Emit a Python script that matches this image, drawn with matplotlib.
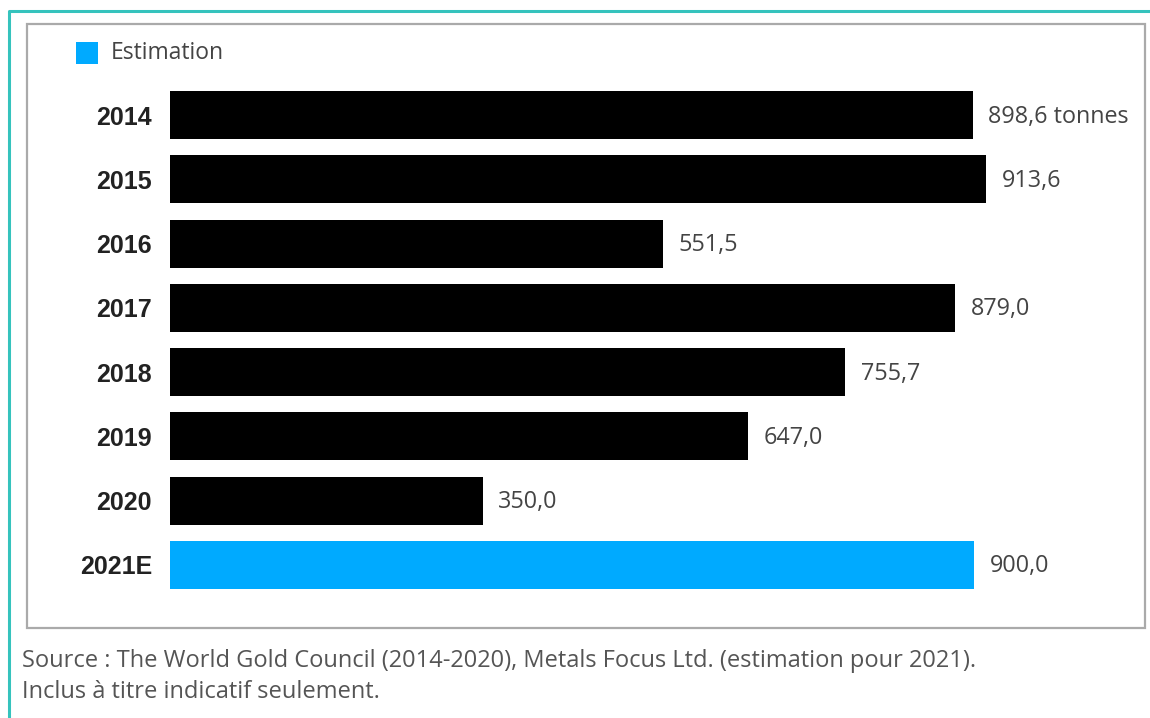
import matplotlib
matplotlib.use("Agg")
import matplotlib.pyplot as plt
from matplotlib.patches import Rectangle
from matplotlib.lines import Line2D

# production data (tonnes)
years = ["2014", "2015", "2016", "2017", "2018", "2019", "2020", "2021E"]
values = [898.6, 913.6, 551.5, 879.0, 755.7, 647.0, 350.0, 900.0]
labels = ["898,6 tonnes", "913,6", "551,5", "879,0", "755,7", "647,0", "350,0", "900,0"]
colors = ["black"] * 7 + ["#00aaff"]

W, H = 1150, 718
fig = plt.figure(figsize=(W / 100, H / 100), dpi=100)
fig.patch.set_facecolor("white")


def fx(px):
    return px / W


def fy(py):
    return 1 - py / H


# outer teal frame (top + left only) and gray chart box
fig.add_artist(Line2D([fx(9), fx(9), fx(W)], [fy(H), fy(11), fy(11)],
                      color="#35c3bd", lw=2.2, transform=fig.transFigure))
fig.add_artist(Rectangle((fx(27), fy(628)), fx(1145) - fx(27), fy(24) - fy(628),
                         fill=False, edgecolor="#aaaaaa", lw=1.6,
                         transform=fig.transFigure))

# main axes: x=0 at px 170, 0.8936 px per tonne
left_px, right_px = 170, 1140
ax = fig.add_axes([fx(left_px), fy(597), fx(right_px) - fx(left_px), fy(83) - fy(597)])
ax.set_xlim(0, (right_px - left_px) / 0.8936)
ax.set_ylim(len(years) - 0.5, -0.5)

pos = list(range(len(years)))
ax.barh(pos, values, height=0.75, color=colors)

for p, v, lab in zip(pos, values, labels):
    ax.annotate(lab, (v, p), xytext=(11, -1), textcoords="offset points",
                va="center", ha="left", fontsize=16.8, color="#444444",
                family="Open Sans")

ax.set_yticks(pos)
ax.set_yticklabels(years, fontsize=18, fontweight="bold", color="#222222",
                   family="Liberation Sans")
ax.tick_params(axis="y", length=0, pad=13)
ax.set_xticks([])
for s in ax.spines.values():
    s.set_visible(False)

# legend
fig.add_artist(Rectangle((fx(76), fy(64)), fx(98) - fx(76), fy(42) - fy(64),
                         facecolor="#00aaff", edgecolor="none",
                         transform=fig.transFigure))
fig.text(fx(111), fy(53), "Estimation", fontsize=16.5, color="#444444",
         va="center", ha="left", family="Open Sans")

# source note
fig.text(fx(22), fy(661), "Source : The World Gold Council (2014-2020), Metals Focus Ltd. (estimation pour 2021).",
         fontsize=17, color="#555555", va="center", ha="left", family="Open Sans")
fig.text(fx(22), fy(692), "Inclus à titre indicatif seulement.",
         fontsize=17, color="#555555", va="center", ha="left", family="Open Sans")

fig.savefig("out.png", dpi=100)
